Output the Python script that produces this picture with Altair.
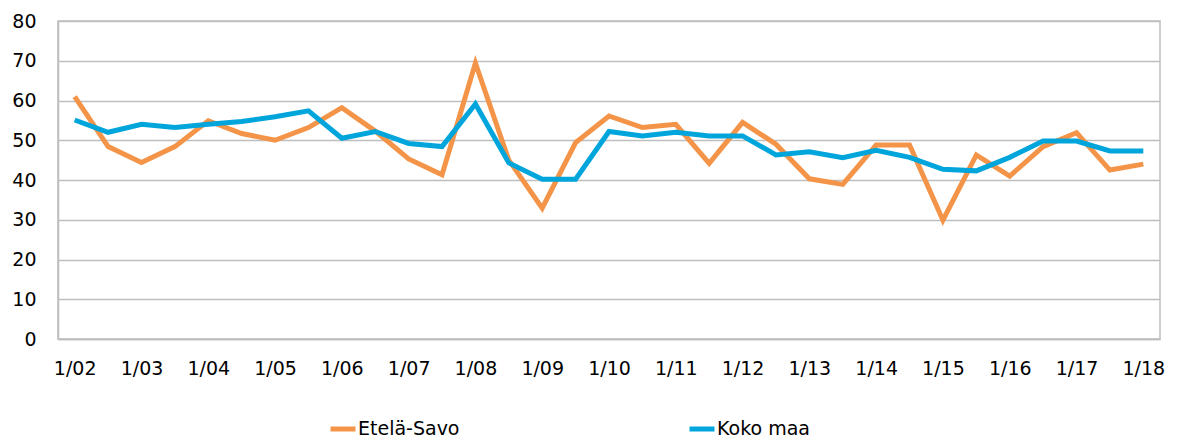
import altair as alt
import pandas as pd

years = list(range(2, 19))
periods = []
for y in years:
    periods.append(f"1/{y:02d}")
    if y < 18:
        periods.append(f"7/{y:02d}")
tick_labels = [f"1/{y:02d}" for y in years]

etela_savo = [61, 48.4, 44.4, 48.4, 54.9, 51.7, 50, 53.2, 58.2, 52.3, 45.3, 41.3, 69.4,
              45, 32.9, 49.4, 56.1, 53.2, 54, 44.2, 54.5, 49, 40.3, 38.9, 48.8, 48.8,
              29.9, 46.3, 41, 48.4, 51.9, 42.5, 44]
koko_maa = [55.1, 52, 54, 53.2, 54, 54.7, 55.9, 57.4, 50.5, 52.2, 49.2, 48.4, 59.1,
            44.3, 40.2, 40.2, 52.2, 51.1, 52, 51.1, 51.1, 46.3, 47.1, 45.6, 47.5, 45.7,
            42.7, 42.3, 45.7, 49.8, 49.8, 47.3, 47.3]
series_names = ["Etelä-Savo", "Koko maa"]
colors = ["#F39448", "#00A5DC"]

rows = []
for name, vals in zip(series_names, [etela_savo, koko_maa]):
    for p, v in zip(periods, vals):
        rows.append({"period": p, "series": name, "value": v})
df = pd.DataFrame(rows)

FONT = "DejaVu Sans"
GRID = "#BEBEBE"

chart = alt.Chart(df).mark_line(strokeWidth=5, strokeJoin="miter", strokeCap="butt").encode(
    x=alt.X("period:N", sort=periods, title=None,
            scale=alt.Scale(type="point", padding=0.5),
            axis=alt.Axis(values=tick_labels, labelAngle=0, ticks=False, domain=True,
                          domainColor=GRID, domainWidth=1.5, labelPadding=20,
                          labelFontSize=19, labelFont=FONT, labelColor="#000000")),
    y=alt.Y("value:Q", title=None,
            scale=alt.Scale(domain=[0, 80], nice=False),
            axis=alt.Axis(values=[0, 10, 20, 30, 40, 50, 60, 70, 80], ticks=False,
                          domain=True, domainColor=GRID, domainWidth=1.5,
                          gridColor=GRID, gridWidth=1.5, labelPadding=22,
                          labelFontSize=19, labelFont=FONT, labelColor="#000000")),
    color=alt.Color("series:N", scale=alt.Scale(domain=series_names, range=colors),
                    legend=alt.Legend(title=None, orient="none", direction="horizontal",
                                      legendX=270, legendY=393, columnPadding=219,
                                      symbolType="stroke", symbolSize=625,
                                      symbolStrokeWidth=5, labelOffset=0,
                                      labelFontSize=19, labelFont=FONT,
                                      labelColor="#000000")),
).properties(
    width=1102, height=318,
    autosize=alt.AutoSizeParams(type="none"),
    padding={"left": 50, "top": 13, "right": 20, "bottom": 100},
).configure_view(stroke=GRID, strokeWidth=1.5)

chart.save("out.html", embed_options={"renderer": "svg", "actions": False})
